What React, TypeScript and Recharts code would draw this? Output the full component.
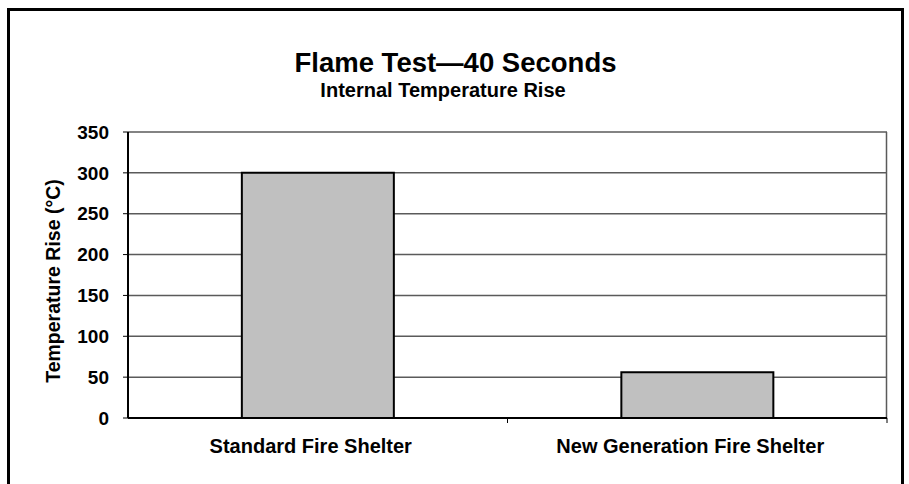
import { BarChart, Bar, XAxis, YAxis, CartesianGrid, Label } from 'recharts';

const categories = ['Standard Fire Shelter', 'New Generation Fire Shelter'];
const tempRise = [300, 56];
const yTicks = [0, 50, 100, 150, 200, 250, 300, 350];

const chartData = categories.map((name, i) => ({ name, rise: tempRise[i] }));

const W = 909;
const H = 484;
const PLOT_LEFT = 128;
const PLOT_RIGHT = 887;
const FONT = '"Liberation Sans", Arial, Helvetica, sans-serif';

// ticks on the category axis sit between the bars, not under them
const halfBand = (PLOT_RIGHT - PLOT_LEFT) / categories.length / 2;

function CategoryTick(props: any) {
  const { x, y, payload } = props;
  return (
    <g>
      <line x1={x + halfBand} y1={y - 8} x2={x + halfBand} y2={y - 3} stroke="#000" strokeWidth={1} />
      <text
        x={x - 7}
        y={y + 27}
        textAnchor="middle"
        fontFamily={FONT}
        fontWeight="bold"
        fontSize={20}
        fill="#000"
      >
        {payload.value}
      </text>
    </g>
  );
}

function YTitle(props: any) {
  const { viewBox } = props;
  const cx = 60;
  const cy = viewBox.y + viewBox.height / 2 + 6;
  return (
    <text
      x={cx}
      y={cy}
      transform={`rotate(-90, ${cx}, ${cy})`}
      textAnchor="middle"
      fontFamily={FONT}
      fontWeight="bold"
      fontSize={19.5}
      fill="#000"
    >
      Temperature Rise (°C)
    </text>
  );
}

export default function App() {
  return (
    <div
      style={{
        position: 'absolute',
        left: 0,
        top: 0,
        width: W,
        height: H,
        background: '#fff',
        overflow: 'hidden',
        fontFamily: FONT,
      }}
    >
      <div
        style={{
          position: 'absolute',
          left: 7,
          top: 8,
          width: 897,
          height: 490,
          border: '3px solid #000',
          boxSizing: 'border-box',
        }}
      />
      <div
        style={{
          position: 'absolute',
          left: 0,
          width: 911,
          top: 50,
          textAlign: 'center',
          fontWeight: 'bold',
          fontSize: 27.5,
          lineHeight: '26px',
        }}
      >
        Flame Test—40 Seconds
      </div>
      <div
        style={{
          position: 'absolute',
          left: 0,
          width: 886,
          top: 82,
          textAlign: 'center',
          fontWeight: 'bold',
          fontSize: 20,
          lineHeight: '16px',
        }}
      >
        Internal Temperature Rise
      </div>
      <BarChart
        width={W}
        height={H}
        data={chartData}
        margin={{ top: 132, right: W - PLOT_RIGHT, bottom: 26, left: 0 }}
        barCategoryGap="30%"
        style={{ position: 'absolute', left: 0, top: 0 }}
      >
        <CartesianGrid
          stroke="#5a5a5a"
          strokeWidth={1.5}
          verticalPoints={[PLOT_RIGHT - 0.5]}
        />
        <XAxis
          dataKey="name"
          height={40}
          axisLine={{ stroke: '#000', strokeWidth: 2 }}
          tickLine={false}
          tick={<CategoryTick />}
          interval={0}
        />
        <YAxis
          width={PLOT_LEFT}
          domain={[0, 350]}
          ticks={yTicks}
          interval={0}
          axisLine={{ stroke: '#000', strokeWidth: 2 }}
          tickLine={{ stroke: '#000' }}
          tickSize={5}
          tickMargin={14}
          tick={{ fill: '#000', fontFamily: FONT, fontWeight: 'bold', fontSize: 19 }}
        >
          <Label content={<YTitle />} />
        </YAxis>
        <Bar
          dataKey="rise"
          fill="#c0c0c0"
          stroke="#000"
          strokeWidth={2}
          isAnimationActive={false}
        />
      </BarChart>
    </div>
  );
}
